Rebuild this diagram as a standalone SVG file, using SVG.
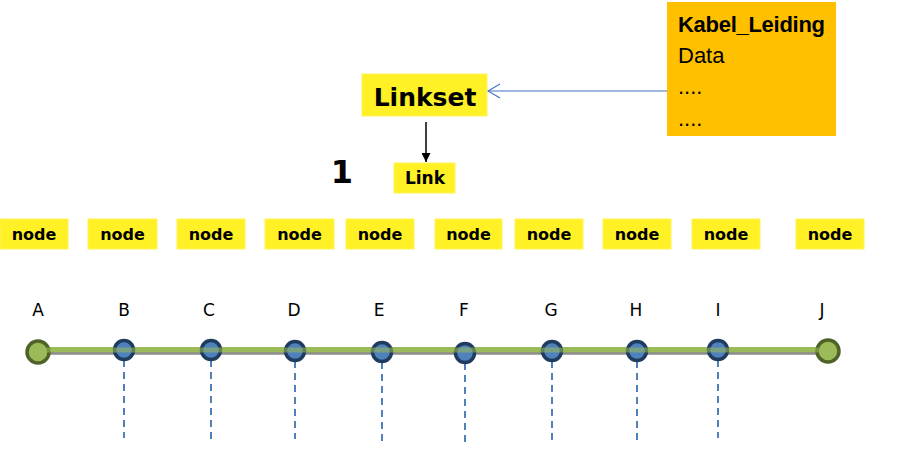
<svg xmlns="http://www.w3.org/2000/svg" width="901" height="458" viewBox="0 0 901 458">
<style>
.y{fill:#FFF125;stroke:#FFF35A;stroke-width:1}
.nt{font-family:"DejaVu Sans",Verdana,sans-serif;font-weight:bold;font-size:16px;fill:#000;text-anchor:middle}
.lt{font-family:"DejaVu Sans",Verdana,sans-serif;font-size:17px;fill:#000;text-anchor:middle}
.kt{font-family:"Liberation Sans",Arial,sans-serif;font-size:22px;fill:#000}
.bc{fill:#4F81BD;stroke:#1F3B5E;stroke-width:3.5}
.gc{fill:#9BBB59;stroke:#4F6228;stroke-width:3.5}
.dash{stroke:#4F81BD;stroke-width:2;stroke-dasharray:7,5;fill:none}
</style>
<defs>
<marker id="open" viewBox="0 0 14 16" refX="13" refY="8" markerWidth="14" markerHeight="16" markerUnits="userSpaceOnUse" orient="auto">
<path d="M1,1 L13,8 L1,15" fill="none" stroke="#4472C4" stroke-width="1.2"/>
</marker>
<marker id="fill" viewBox="0 0 10 10" refX="10" refY="5" markerWidth="9" markerHeight="9" markerUnits="userSpaceOnUse" orient="auto">
<path d="M0,0 L10,5 L0,10 Z" fill="#000"/>
</marker>
</defs>
<rect width="901" height="458" fill="#fff"/>
<g id="kabel_leiding">
<rect x="667" y="2" width="169" height="134" fill="#FFC000"/>
<text class="kt" x="678" y="32" font-weight="bold" textLength="147">Kabel_Leiding</text>
<text class="kt" x="678" y="63">Data</text>
<text class="kt" x="678" y="94">....</text>
<text class="kt" x="678" y="126">....</text>
</g>
<g id="linkset">
<rect class="y" x="362" y="74" width="125" height="42"/>
<text x="425" y="106" font-family="DejaVu Sans,Verdana,sans-serif" font-weight="bold" font-size="25" text-anchor="middle">Linkset</text>
</g>
<g id="link">
<rect class="y" x="394" y="163" width="61" height="30"/>
<text x="425" y="184" font-family="DejaVu Sans,Verdana,sans-serif" font-weight="bold" font-size="17" text-anchor="middle">Link</text>
</g>
<text x="342" y="183" font-family="DejaVu Sans,Verdana,sans-serif" font-weight="bold" font-size="32" text-anchor="middle">1</text>
<g id="nodes">
<g id="node1"><rect class="y" x="0" y="219" width="68" height="30"/><text class="nt" x="34" y="240">node</text></g>
<g id="node2"><rect class="y" x="88" y="219" width="69" height="30"/><text class="nt" x="122.5" y="240">node</text></g>
<g id="node3"><rect class="y" x="177" y="219" width="68" height="30"/><text class="nt" x="211" y="240">node</text></g>
<g id="node4"><rect class="y" x="265" y="219" width="69" height="30"/><text class="nt" x="299.5" y="240">node</text></g>
<g id="node5"><rect class="y" x="346" y="219" width="68" height="30"/><text class="nt" x="380" y="240">node</text></g>
<g id="node6"><rect class="y" x="435" y="219" width="67" height="30"/><text class="nt" x="468.5" y="240">node</text></g>
<g id="node7"><rect class="y" x="515" y="219" width="68" height="30"/><text class="nt" x="549" y="240">node</text></g>
<g id="node8"><rect class="y" x="603" y="219" width="68" height="30"/><text class="nt" x="637" y="240">node</text></g>
<g id="node9"><rect class="y" x="692" y="219" width="68" height="30"/><text class="nt" x="726" y="240">node</text></g>
<g id="node10"><rect class="y" x="796" y="219" width="68" height="30"/><text class="nt" x="830" y="240">node</text></g>
</g>
<g id="labels">
<text class="lt" x="38" y="316">A</text>
<text class="lt" x="124" y="316">B</text>
<text class="lt" x="209" y="316">C</text>
<text class="lt" x="294" y="316">D</text>
<text class="lt" x="379" y="316">E</text>
<text class="lt" x="464" y="316">F</text>
<text class="lt" x="551" y="316">G</text>
<text class="lt" x="636" y="316">H</text>
<text class="lt" x="718" y="316">I</text>
<text class="lt" x="822" y="316">J</text>
</g>
<g id="connectors">
<line x1="667" y1="91" x2="488" y2="91" stroke="#4472C4" stroke-width="1.2" marker-end="url(#open)"/>
<line x1="426" y1="122" x2="426" y2="162" stroke="#000" stroke-width="1.5" marker-end="url(#fill)"/>
<line class="dash" x1="124" y1="360" x2="124" y2="438"/>
<line class="dash" x1="211" y1="360" x2="211" y2="439"/>
<line class="dash" x1="295" y1="361" x2="295" y2="439"/>
<line class="dash" x1="382" y1="362" x2="382" y2="442"/>
<line class="dash" x1="465" y1="363" x2="465" y2="442"/>
<line class="dash" x1="552" y1="361" x2="552" y2="440"/>
<line class="dash" x1="637" y1="361" x2="637" y2="441"/>
<line class="dash" x1="718" y1="360" x2="718" y2="438"/>
</g>
<g id="cable">
<line x1="40" y1="353" x2="827" y2="353" stroke="#8C8C8C" stroke-width="3.5"/>
<line x1="40" y1="349.5" x2="827" y2="349.5" stroke="#9BBB59" stroke-width="5"/>
<circle class="gc" cx="38" cy="352" r="11"/>
<circle class="gc" cx="828" cy="351" r="11"/>
<circle class="bc" cx="124" cy="350" r="9.5"/>
<circle class="bc" cx="211" cy="350" r="9.5"/>
<circle class="bc" cx="295" cy="351" r="9.5"/>
<circle class="bc" cx="382" cy="352" r="9.5"/>
<circle class="bc" cx="465" cy="353" r="9.5"/>
<circle class="bc" cx="552" cy="351" r="9.5"/>
<circle class="bc" cx="637" cy="351" r="9.5"/>
<circle class="bc" cx="718" cy="350" r="9.5"/>
<line x1="44" y1="350" x2="824" y2="350" stroke="#9BBB59" stroke-width="5" opacity="0.55"/>
</g>
</svg>
